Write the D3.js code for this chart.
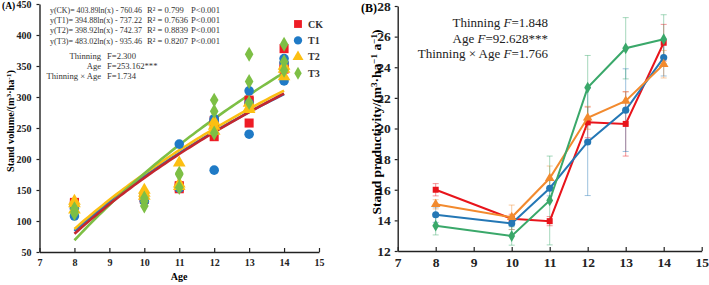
<!DOCTYPE html>
<html>
<head>
<meta charset="utf-8">
<script src="https://cdn.jsdelivr.net/npm/d3@7"></script>
<style>
  body { margin: 0; background: #fff; }
  svg { font-family: "Liberation Serif", "Times New Roman", serif; }
</style>
</head>
<body>
<div id="chart"></div>
<script>
// ---- data ----
var ages = [8, 10, 11, 12, 13, 14];
var groups = ["CK", "T1", "T2", "T3"];

// panel A: stand volume replicates per age
var volCK = [[130, 125, 128], [140, 138, 135], [152, 155, 157], [236, 258, 262], [293, 258, 295], [378, 350, 345]];
var volT1 = [[108, 125, 120], [142, 138, 132], [224, 155, 153], [182, 265, 262], [310, 240, 290], [362, 326, 355]];
var volT2 = [[132, 128, 118], [150, 145, 140], [194, 160, 156], [253, 245, 260], [283, 290, 280], [350, 333, 345]];
var volT3 = [[120, 112, 115], [124, 132, 137], [177, 154, 175], [295, 277, 242], [369, 325, 291], [385, 357, 343]];
// fitted y = a ln(x) + b
var fitA = [403.89, 394.88, 398.92, 483.02];
var fitB = [-760.46, -737.22, -742.37, -935.46];
var fitLabels = [
  "y(CK)= 403.89ln(x) - 760.46", "y(T1)= 394.88ln(x) - 737.22",
  "y(T2)= 398.92ln(x) - 742.37", "y(T3)= 483.02ln(x) - 935.46"];
var r2Labels = ["R\u00b2 = 0.799", "R\u00b2 = 0.7636", "R\u00b2 = 0.8839", "R\u00b2 = 0.8207"];

// panel B: stand productivity mean and error
var prodCK = [16.0, 14.1, 13.95, 20.4, 20.3, 25.6];
var prodT1 = [14.37, 13.8, 16.1, 19.12, 21.2, 24.63];
var prodT2 = [15.05, 14.2, 16.75, 20.7, 21.8, 24.2];
var prodT3 = [13.65, 12.98, 15.3, 22.67, 25.24, 25.83];
var errCK = [0.4, 0.3, 0.3, 1.0, 2.1, 1.2];
var errT1 = [0.5, 0.4, 0.5, 3.5, 2.7, 1.2];
var errT2 = [0.3, 0.8, 0.8, 0.75, 0.6, 0.9];
var errT3 = [0.6, 0.6, 2.9, 2.1, 2.0, 1.6];

var volData = [volCK, volT1, volT2, volT3];
var prodData = [prodCK, prodT1, prodT2, prodT3];
var errData = [errCK, errT1, errT2, errT3];

var ptColor = ["#ee1c25", "#1f7ac6", "#fcbf12", "#7dbf45"];
var fitColor = ["#c3272f", "#1f7ac6", "#fcbf12", "#7dbf45"];
var lineColor = ["#e8141b", "#2477b5", "#f28a2e", "#3aa86a"];
var symbols = [d3.symbolSquare, d3.symbolCircle, d3.symbolTriangle, d3.symbolDiamond];

var svg = d3.select("#chart").append("svg").attr("width", 709).attr("height", 285);

// ================= panel A =================
var xA = d3.scaleLinear().domain([7, 15]).range([39.5, 319]);
var yA = d3.scaleLinear().domain([50, 450]).range([252, 4]);

svg.append("g")
  .attr("transform", "translate(0,252)")
  .call(d3.axisBottom(xA).ticks(8).tickSizeInner(-4).tickSizeOuter(0).tickPadding(7))
  .call(styleAxis, 10);
svg.append("g")
  .attr("transform", "translate(39.5,0)")
  .call(d3.axisLeft(yA).tickValues(d3.range(50, 451, 50)).tickSizeInner(3).tickSizeOuter(0).tickPadding(5))
  .call(styleAxis, 10);

// fit lines
var fitX = d3.range(8, 14.001, 0.1);
[1, 2, 3, 0].forEach(function(i) {
  svg.append("path")
    .datum(fitX)
    .attr("fill", "none")
    .attr("stroke", fitColor[i])
    .attr("stroke-width", 2.6)
    .attr("d", d3.line()
      .x(function(d) { return xA(d); })
      .y(function(d) { return yA(fitA[i] * Math.log(d) + fitB[i]); }));
});

// points
var symSizeA = [82, 72, 70, 64];
[0, 1, 2, 3].forEach(function(i) {
  var pts = [];
  volData[i].forEach(function(reps, j) {
    reps.forEach(function(v) { pts.push({ age: ages[j], v: v }); });
  });
  svg.append("g").selectAll("path")
    .data(pts)
    .enter().append("path")
    .attr("transform", function(d) { return "translate(" + xA(d.age) + "," + yA(d.v) + ")"; })
    .attr("d", d3.symbol().type(symbols[i]).size(symSizeA[i]))
    .attr("fill", ptColor[i]);
});

// equations
var eq = svg.append("g").attr("font-size", 8.6).attr("fill", "#333");
fitLabels.forEach(function(t, i) {
  var y = 13 + i * 10.2;
  eq.append("text").attr("x", 50).attr("y", y)
    .attr("textLength", 92).attr("lengthAdjust", "spacingAndGlyphs").text(t);
  eq.append("text").attr("x", 147).attr("y", y).text(r2Labels[i]);
  eq.append("text").attr("x", 191).attr("y", y).text("P<0.001");
});
var anovaA = [["Thinning", "F=2.300"], ["Age", "F=253.162***"], ["Thinning \u00d7 Age", "F=1.734"]];
anovaA.forEach(function(r, i) {
  var y = 58.5 + i * 10;
  eq.append("text").attr("x", 101).attr("y", y).attr("text-anchor", "end").text(r[0]);
  eq.append("text").attr("x", 107).attr("y", y).text(r[1]);
});

// legend
groups.forEach(function(g, i) {
  var y = 24 + i * 16.4;
  svg.append("path")
    .attr("transform", "translate(298," + y + ")")
    .attr("d", d3.symbol().type(symbols[i]).size(symSizeA[i] * 0.75))
    .attr("fill", ptColor[i]);
  svg.append("text").attr("x", 308).attr("y", y + 3.5)
    .attr("font-size", 10).attr("font-weight", "bold").attr("fill", "#333").text(g);
});

svg.append("text").attr("x", 2).attr("y", 9).attr("font-size", 9.5).attr("font-weight", "bold").text("(A)");
svg.append("text").attr("x", 179).attr("y", 280).attr("text-anchor", "middle")
  .attr("font-size", 10).attr("font-weight", "bold").text("Age");
var ylA = svg.append("text").attr("transform", "translate(14,121) rotate(-90)")
  .attr("text-anchor", "middle").attr("font-size", 9.6).attr("font-weight", "bold")
  .attr("textLength", 102).attr("lengthAdjust", "spacingAndGlyphs");
ylA.append("tspan").text("Stand volume/(m");
ylA.append("tspan").attr("dy", -3).attr("font-size", 7).text("3");
ylA.append("tspan").attr("dy", 3).text("\u00b7ha");
ylA.append("tspan").attr("dy", -3).attr("font-size", 7).text("-1");
ylA.append("tspan").attr("dy", 3).text(")");

// ================= panel B =================
var xB = d3.scaleLinear().domain([7, 15]).range([397.7, 701.7]);
var yB = d3.scaleLinear().domain([12, 28]).range([251, 6]);

svg.append("g")
  .attr("transform", "translate(0,251)")
  .call(d3.axisBottom(xB).ticks(8).tickSizeInner(-4).tickSizeOuter(0).tickPadding(6))
  .call(styleAxis, 13.5);
svg.append("g")
  .attr("transform", "translate(397.7,0)")
  .call(d3.axisLeft(yB).tickValues(d3.range(12, 29, 2)).tickSizeInner(3).tickSizeOuter(0).tickPadding(4))
  .call(styleAxis, 13.5);

// error bars
[0, 1, 2, 3].forEach(function(i) {
  var g = svg.append("g").attr("stroke", lineColor[i]).attr("stroke-opacity", 0.45).attr("stroke-width", 1);
  ages.forEach(function(a, j) {
    var m = prodData[i][j], e = errData[i][j], x = xB(a);
    g.append("line").attr("x1", x).attr("x2", x).attr("y1", yB(m - e)).attr("y2", yB(m + e));
    g.append("line").attr("x1", x - 3).attr("x2", x + 3).attr("y1", yB(m - e)).attr("y2", yB(m - e));
    g.append("line").attr("x1", x - 3).attr("x2", x + 3).attr("y1", yB(m + e)).attr("y2", yB(m + e));
  });
});

// lines + markers
var symSizeB = [36, 40, 40, 40];
[0, 1, 2, 3].forEach(function(i) {
  var pts = ages.map(function(a, j) { return { age: a, v: prodData[i][j] }; });
  svg.append("path").datum(pts)
    .attr("fill", "none").attr("stroke", lineColor[i]).attr("stroke-width", 2)
    .attr("d", d3.line().x(function(d) { return xB(d.age); }).y(function(d) { return yB(d.v); }));
  svg.append("g").selectAll("path").data(pts).enter().append("path")
    .attr("transform", function(d) { return "translate(" + xB(d.age) + "," + yB(d.v) + ")"; })
    .attr("d", d3.symbol().type(symbols[i]).size(symSizeB[i]))
    .attr("fill", lineColor[i]);
});

var anovaB = [["Thinning", "=1.848"], ["Age", "=92.628***"], ["Thinning \u00d7 Age", "=1.766"]];
anovaB.forEach(function(r, i) {
  var t = svg.append("text").attr("x", 548).attr("y", 27 + i * 15.5)
    .attr("text-anchor", "end").attr("font-size", 13).attr("fill", "#222");
  t.append("tspan").text(r[0] + "   ");
  t.append("tspan").attr("font-style", "italic").text("F");
  t.append("tspan").text(r[1]);
});

svg.append("text").attr("x", 361).attr("y", 12).attr("font-size", 12).attr("font-weight", "bold").text("(B)");
var ylB = svg.append("text").attr("transform", "translate(381,122) rotate(-90)")
  .attr("text-anchor", "middle").attr("font-size", 12.5).attr("font-weight", "bold")
  .attr("textLength", 185).attr("lengthAdjust", "spacingAndGlyphs");
ylB.append("tspan").text("Stand productivity/(m");
ylB.append("tspan").attr("dy", -4).attr("font-size", 8.5).text("3");
ylB.append("tspan").attr("dy", 4).text("\u00b7ha");
ylB.append("tspan").attr("dy", -4).attr("font-size", 8.5).text("\u22121");
ylB.append("tspan").attr("dy", 4).text(" a");
ylB.append("tspan").attr("dy", -4).attr("font-size", 8.5).text("\u22121");
ylB.append("tspan").attr("dy", 4).text(")");

function styleAxis(g, fs) {
  g.select(".domain").attr("stroke", "#222").attr("stroke-width", 1.4);
  g.selectAll(".tick line").attr("stroke", "#222").attr("stroke-width", 1.2);
  g.selectAll(".tick text")
    .attr("font-family", "Liberation Serif, Times New Roman, serif")
    .attr("font-size", fs).attr("font-weight", "bold").attr("fill", "#222");
}
</script>
</body>
</html>
